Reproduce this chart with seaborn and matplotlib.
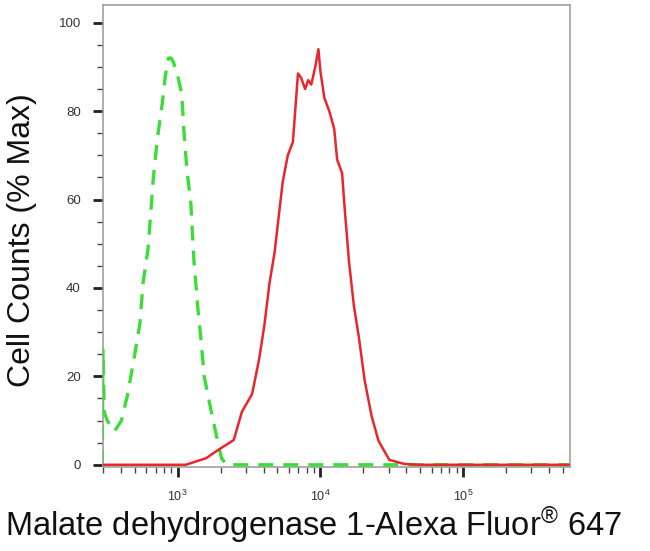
import numpy as np
import pandas as pd
import seaborn as sns
import matplotlib.pyplot as plt
from matplotlib.ticker import LogLocator, FixedLocator, NullFormatter

# isotype control (green dashed)
ctrl_x = [296, 300, 306, 321, 361, 404, 447, 501, 544, 572, 621, 674, 719, 782,
          820, 863, 900, 936, 1000, 1068, 1104, 1159, 1238, 1301, 1389, 1460,
          1534, 1721, 1931, 2028, 2200, 5000, 20000, 100000, 550000]
ctrl_y = [0, 26, 12, 10, 7.6, 10, 16, 25, 32, 41, 49, 64.5, 73.5, 82,
          88, 92, 92, 91, 88, 84, 76, 67, 59, 46, 35, 28,
          20, 12, 4.5, 1.5, 0, 0, 0, 0, 0]

# Malate dehydrogenase 1 stained (red)
mdh_x = [300, 1140, 1585, 1931, 2472, 2818, 3322, 3727, 4047, 4395, 4773, 5443,
         5909, 6414, 6963, 7311, 7815, 8204, 8625, 9205, 9680, 10000, 10655,
         11536, 12489, 13100, 14180, 14870, 15850, 17150, 18560, 20430, 22840,
         25530, 30400, 38590, 48180, 550000]
mdh_y = [0, 0, 1.5, 3.4, 5.6, 12, 16, 24, 31.5, 41, 48, 64,
         70, 73, 88.5, 87.6, 85, 87, 86, 90, 94, 89, 83,
         80, 76, 69, 66, 57, 46, 36, 29, 19, 11,
         5.4, 1.1, 0.2, 0, 0]

y_ticks = [0, 20, 40, 60, 80, 100]
x_ticks = [1e3, 1e4, 1e5]
x_tick_labels = ["$10^3$", "$10^4$", "$10^5$"]

sns.set_style("ticks")
plt.rcParams["font.family"] = ["Liberation Sans", "DejaVu Sans"]
plt.rcParams["mathtext.fontset"] = "custom"
plt.rcParams["mathtext.rm"] = "Liberation Sans"
plt.rcParams["mathtext.it"] = "Liberation Sans"

fig = plt.figure(figsize=(6.5, 5.51), dpi=100)
ax = fig.add_axes([103 / 650, 1 - 467 / 551, 467 / 650, 462 / 551])

ctrl = pd.DataFrame({"x": ctrl_x, "y": ctrl_y})
mdh = pd.DataFrame({"x": mdh_x, "y": mdh_y})
sns.lineplot(data=ctrl, x="x", y="y", ax=ax, color="#3ddc3a", linewidth=2.4,
             linestyle=(0, (4.5, 3.0)), zorder=3)
sns.lineplot(data=mdh, x="x", y="y", ax=ax, color="#e8262b", linewidth=1.8,
             zorder=4)

ax.set_xscale("log")
ax.set_xlim(300, 5.6e5)
ax.set_ylim(-0.5, 104)

ax.xaxis.set_major_locator(FixedLocator(x_ticks))
ax.set_xticklabels(x_tick_labels)
ax.xaxis.set_minor_locator(LogLocator(base=10, subs=np.arange(2, 10)))
ax.xaxis.set_minor_formatter(NullFormatter())
ax.set_yticks(y_ticks)
ax.yaxis.set_minor_locator(FixedLocator(np.arange(0, 105, 5)))

ax.tick_params(axis="both", which="major", direction="out", length=7, width=2,
               color="#222222", labelcolor="#333333")
ax.tick_params(axis="both", which="minor", direction="out", length=4, width=1,
               color="#444444")
ax.tick_params(axis="x", which="major", pad=9, labelsize=9)
ax.tick_params(axis="y", which="major", pad=9, labelsize=9.5)

for s in ax.spines.values():
    s.set_color("#a0a0a0")
    s.set_linewidth(1.2)

ax.set_xlabel("")
ax.set_ylabel("")
fig.text(313 / 650, 1 - 525 / 551,
         "Malate dehydrogenase 1-Alexa Fluor$^{\u00ae}$ 647",
         ha="center", va="center", fontsize=23.5, color="#111111")
fig.text(22 / 650, 1 - 240 / 551, "Cell Counts (% Max)", rotation=90,
         ha="center", va="center", fontsize=23, color="#111111")

fig.savefig("out.png", dpi=100)
